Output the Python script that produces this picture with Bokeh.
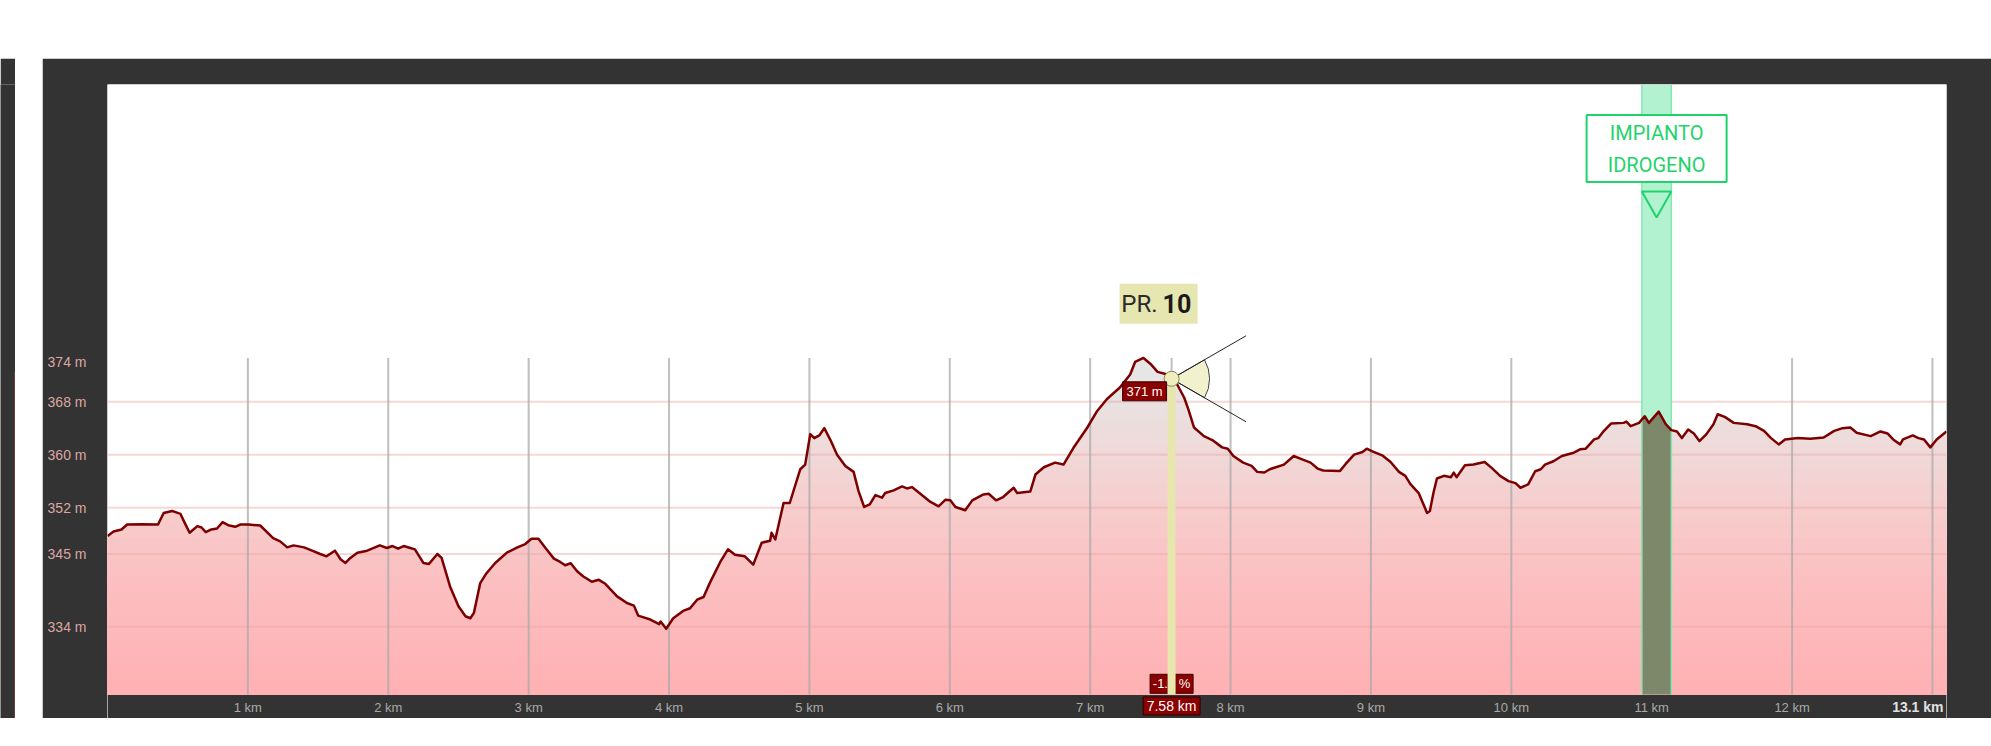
import numpy as np
from bokeh.plotting import figure
from bokeh.models import Range1d, FixedTicker, Spacer
from bokeh.layouts import row, column
from bokeh.embed import file_html
from bokeh.resources import INLINE
from bokeh.core.properties import value

# ---------------- data ----------------
dist_km = [
    0.00, 0.043, 0.10, 0.14, 0.245, 0.36, 0.40, 0.46, 0.52, 0.55,
    0.585, 0.64, 0.67, 0.70, 0.74, 0.78, 0.82, 0.86, 0.91, 0.945,
    1.005, 1.088, 1.18, 1.23, 1.28, 1.325, 1.40, 1.47, 1.515, 1.56,
    1.62, 1.66, 1.695, 1.73, 1.78, 1.85, 1.94, 1.99, 2.03, 2.07,
    2.11, 2.157,
    2.19, 2.25, 2.29, 2.35, 2.38, 2.44, 2.50, 2.55, 2.585, 2.61,
    2.655, 2.70, 2.76, 2.845, 2.92, 2.976, 3.02, 3.07, 3.12, 3.18,
    3.225, 3.26, 3.30, 3.345, 3.39, 3.45, 3.50, 3.546, 3.63, 3.70,
    3.75, 3.78, 3.867, 3.93, 3.94, 3.98, 4.03, 4.10, 4.15, 4.20,
    4.246, 4.29, 4.365,
    4.42, 4.47, 4.54, 4.60, 4.66, 4.72, 4.73, 4.757, 4.816, 4.86,
    4.935, 4.97, 5.006, 5.035, 5.07, 5.106, 5.15, 5.197, 5.256, 5.315,
    5.35, 5.39, 5.43, 5.47, 5.517, 5.54, 5.60, 5.66, 5.695, 5.73,
    5.79, 5.86, 5.92, 5.97, 6.004, 6.04, 6.11, 6.16, 6.24, 6.277,
    6.33, 6.38, 6.455, 6.48, 6.574,
    6.61, 6.67, 6.75, 6.81, 6.88, 6.98, 7.05, 7.12, 7.21, 7.285,
    7.32, 7.38, 7.43, 7.48, 7.55, 7.62, 7.67, 7.70, 7.74, 7.81,
    7.87, 7.94, 7.98, 8.02, 8.09, 8.15, 8.19, 8.24, 8.28, 8.38,
    8.45, 8.51, 8.57, 8.62, 8.66, 8.78,
    8.82, 8.88, 8.94, 8.97, 9.01, 9.08, 9.14, 9.20, 9.245, 9.28,
    9.34, 9.37, 9.40, 9.42, 9.445, 9.47, 9.52, 9.57, 9.59, 9.61,
    9.67, 9.73, 9.81, 9.86, 9.92, 9.98, 10.03, 10.065, 10.12, 10.17,
    10.21, 10.24, 10.30, 10.36, 10.445, 10.49, 10.53, 10.59, 10.62, 10.66,
    10.71, 10.80, 10.82, 10.85, 10.91, 10.95, 10.98,
    11.05, 11.10, 11.14, 11.18, 11.215, 11.26, 11.30, 11.34, 11.39, 11.44,
    11.47, 11.52, 11.585, 11.68, 11.74, 11.80, 11.85, 11.905, 11.95, 12.04,
    12.13, 12.225, 12.30, 12.36, 12.415, 12.46, 12.56, 12.63, 12.68, 12.72,
    12.77, 12.79, 12.86, 12.90, 12.94, 12.985, 13.03, 13.1,
]
elev_m = [
    347.7, 348.4, 348.7, 349.45, 349.5, 349.45, 351.2, 351.5, 351.05, 349.7,
    348.2, 349.2, 349.0, 348.3, 348.7, 348.85, 349.8, 349.35, 349.1, 349.45,
    349.45, 349.3, 347.4, 346.9, 346.0, 346.3, 346.0, 345.4, 345.0, 344.65,
    345.5, 344.2, 343.65, 344.4, 345.2, 345.5, 346.3, 345.9, 346.2, 345.8,
    346.2, 345.9,
    345.7, 343.65, 343.5, 345.0, 344.4, 340.1, 337.1, 335.6, 335.3, 336.1,
    340.6, 342.1, 343.6, 345.2, 346.0, 346.5, 347.3, 347.3, 345.9, 344.3,
    343.8, 343.3, 343.6, 342.4, 341.6, 340.8, 341.1, 340.5, 338.6, 337.6,
    337.2, 335.7, 335.1, 334.4, 334.8, 333.7, 335.3, 336.4, 336.8, 338.1,
    338.5, 340.6, 343.8,
    345.7, 344.9, 344.65, 343.4, 346.7, 347.0, 348.2, 347.2, 352.7, 352.7,
    357.8, 358.5, 363.1, 362.5, 362.9, 364.0, 362.2, 360.0, 358.3, 357.4,
    354.5, 352.1, 352.5, 353.9, 353.5, 354.2, 354.6, 355.2, 354.9, 355.1,
    354.1, 352.9, 352.2, 353.2, 353.1, 352.1, 351.6, 353.1, 354.0, 354.1,
    353.1, 353.6, 355.0, 354.2, 354.45,
    357.0, 358.1, 358.8, 358.5, 361.0, 364.1, 366.6, 368.4, 370.1, 372.1,
    374.0, 374.6, 373.7, 372.5, 372.1, 370.6, 368.6, 366.8, 364.1, 362.8,
    362.2, 361.1, 360.9, 359.8, 358.8, 358.3, 357.4, 357.3, 357.8, 358.5,
    359.8, 359.3, 358.8, 357.9, 357.6, 357.55,
    358.6, 360.0, 360.4, 360.9, 360.5, 359.9, 358.9, 357.4, 356.8, 355.6,
    354.2, 352.7, 351.2, 351.5, 354.2, 356.4, 356.8, 356.6, 357.3, 356.6,
    358.4, 358.5, 358.9, 358.0, 356.8, 356.0, 355.7, 355.0, 355.5, 357.5,
    357.8, 358.5, 359.0, 359.8, 360.3, 360.8, 360.9, 362.3, 362.5, 363.6,
    364.7, 364.8, 365.0, 364.3, 364.8, 365.8, 364.8,
    366.5, 364.6, 363.7, 363.5, 362.5, 363.8, 363.2, 362.05, 363.1, 364.6,
    366.1, 365.7, 364.8, 364.6, 364.3, 363.6, 362.5, 361.55, 362.3, 362.5,
    362.4, 362.6, 363.6, 364.0, 364.1, 363.3, 362.8, 363.5, 363.2, 362.3,
    361.55, 362.3, 362.9, 362.5, 362.3, 361.1, 362.3, 363.5,
]

y_ticks = [374, 368, 360, 352, 345, 334]
y_tick_labels = ["374 m", "368 m", "360 m", "352 m", "345 m", "334 m"]
grid_elev = [368, 360, 352, 345, 334]
x_ticks = [1, 2, 3, 4, 5, 6, 7, 8, 9, 10, 11, 12, 13]
x_tick_labels = ["1 km", "2 km", "3 km", "4 km", "5 km", "6 km", "7 km", "8 km",
                 "9 km", "10 km", "11 km", "12 km", ""]
end_label = "13.1 km"
total_km = 13.1

cursor_km = 7.58
cursor_elev_label = "371 m"
cursor_dist_label = "7.58 km"
cursor_grade_label = "-1.4 %"
poi_prefix = "PR."
poi_number = "10"

band_start_km = 10.93
band_end_km = 11.14
band_lines = ["IMPIANTO", "IDROGENO"]

# ---------------- geometry / styles ----------------
X0, X1 = 0.0, total_km
Y0, Y1 = 323.78, 415.9          # profile base / top of frame
FW, FH_PLOT = 1839, 610
PPK = FW / (X1 - X0)
PPM = FH_PLOT / (Y1 - Y0)
AXIS_BAND = 24                   # dark distance band inside the frame (px)
YB = Y0 - AXIS_BAND / PPM
GRID_TOP = 374.6

DARK = "#333333"
LINE_RED = "#7d0000"
BOX_RED = "#8b0000"
GREEN = "#1fd36b"
FONT = "Liberation Sans"
LABEL_FONT = "Roboto"

x = np.array(dist_km)
y = np.array(elev_m)


def py(page_y):
    """page y pixel -> data elevation"""
    return Y1 - (page_y - 84.0) / PPM


p = figure(frame_width=FW, frame_height=FH_PLOT + AXIS_BAND,
           x_range=Range1d(X0, X1), y_range=Range1d(YB, Y1),
           output_backend="svg", toolbar_location=None,
           min_border_left=65, min_border_right=45, min_border_top=26, min_border_bottom=0,
           background_fill_color="white", border_fill_color=DARK, outline_line_color=None)
p.xgrid.visible = False
p.ygrid.visible = False

for ax in (p.xaxis[0], p.yaxis[0]):
    ax.axis_line_color = None
    ax.major_tick_line_color = None
    ax.minor_tick_line_color = None
    ax.major_tick_out = 0
    ax.major_tick_in = 0
    ax.major_label_text_font = FONT

p.xaxis.ticker = FixedTicker(ticks=x_ticks)
p.xaxis.major_label_overrides = {t: l for t, l in zip(x_ticks, x_tick_labels)}
p.xaxis.major_label_text_color = "#a9a9a9"
p.xaxis.major_label_text_font_size = "13px"
p.xaxis.major_label_standoff = -19

p.yaxis.ticker = FixedTicker(ticks=y_ticks)
p.yaxis.major_label_overrides = {t: l for t, l in zip(y_ticks, y_tick_labels)}
p.yaxis.major_label_text_color = "#dba7a3"
p.yaxis.major_label_text_font_size = "14px"
p.yaxis.major_label_standoff = 21

# dark distance band at the bottom of the frame
p.quad(left=[X0], right=[X1], bottom=[YB], top=[Y0], fill_color=DARK, line_color=None)


# gradient fill under the profile (layered, top colour first)
def hex2rgb(h):
    h = h.lstrip("#")
    return np.array([int(h[i:i + 2], 16) for i in (0, 2, 4)], dtype=float)


stops = [(Y0, "#ffb0b2"), (340, "#fcbec0"), (350, "#f8caca"), (360, "#f0d8d8"), (372, "#e6e6e6")]
sv = [s[0] for s in stops]
sc = np.array([hex2rgb(s[1]) for s in stops])


def grad_color(v):
    c = [np.interp(v, sv, sc[:, k]) for k in range(3)]
    return "#%02x%02x%02x" % tuple(int(round(t)) for t in c)


levels = np.linspace(Y0, 377.0, 46)[1:][::-1]
step = levels[0] - levels[1]
for lv in levels:
    p.varea(x=x, y1=np.full_like(y, Y0), y2=np.minimum(y, lv), fill_color=grad_color(lv - step / 2))

# horizontal grid lines
p.segment(x0=[X0] * len(grid_elev), y0=grid_elev, x1=[X1] * len(grid_elev), y1=grid_elev,
          line_color="#e8a8a8", line_alpha=0.45, line_width=2)
# vertical grid lines
p.segment(x0=x_ticks, y0=[Y0] * len(x_ticks), x1=x_ticks, y1=[GRID_TOP] * len(x_ticks),
          line_color="#aaaaaa", line_alpha=0.75, line_width=2)

# highlighted band (IMPIANTO IDROGENO)
inside = (x > band_start_km) & (x < band_end_km)
bx = np.concatenate([[band_start_km], x[inside], [band_end_km]])
by = np.interp(bx, x, y)
p.varea(x=bx, y1=by, y2=np.full_like(by, Y1), fill_color="#b3f2d1")
p.varea(x=bx, y1=np.full_like(by, Y0), y2=by, fill_color="#7d876a")
p.segment(x0=[band_start_km, band_end_km], y0=[Y0, Y0], x1=[band_start_km, band_end_km], y1=[Y1, Y1],
          line_color="#86e6b0", line_width=1.5)

# profile line
p.line(x, y, line_color=LINE_RED, line_width=2.5, line_join="round")

# cursor
cursor_elev = float(np.interp(cursor_km, x, y))
gy = Y0 + 10.7 / PPM
p.rect(x=[cursor_km], y=[gy], width=43, height=19, width_units="screen", height_units="screen",
       fill_color=BOX_RED, line_color="#3a0000")
p.text(x=[cursor_km], y=[gy], text=[cursor_grade_label], text_align="center", text_baseline="middle",
       text_color="white", text_font_size="13px", text_font=value(FONT))
p.segment(x0=[cursor_km], y0=[Y0], x1=[cursor_km], y1=[cursor_elev], line_color="#e6e6ad",
          line_width=8)
p.segment(x0=[cursor_km], y0=[cursor_elev], x1=[cursor_km], y1=[GRID_TOP], line_color="#aaaaaa",
          line_alpha=0.75, line_width=2)
p.wedge(x=[cursor_km], y=[cursor_elev], radius=38, radius_units="screen",
        start_angle=np.radians(-30), end_angle=np.radians(30),
        fill_color="#efefc8", fill_alpha=0.9, line_color="#444444", line_width=1)
p.ray(x=[cursor_km, cursor_km], y=[cursor_elev, cursor_elev], length=86, length_units="screen",
      angle=[np.radians(30), np.radians(-30)], line_color="#222222", line_width=1)
p.scatter(x=[cursor_km], y=[cursor_elev], size=15, fill_color="#eeeebf", line_color="#85854f",
          line_width=1)
# elevation label
ex = cursor_km - 27 / PPK
ey = cursor_elev - 12.5 / PPM
p.rect(x=[ex], y=[ey], width=44, height=19, width_units="screen", height_units="screen",
       fill_color=BOX_RED, line_color="#3a0000")
p.text(x=[ex], y=[ey], text=[cursor_elev_label], text_align="center", text_baseline="middle",
       text_color="white", text_font_size="13px", text_font=value(FONT))
# distance label in the bottom band
dy = Y0 - 11.5 / PPM
p.rect(x=[cursor_km], y=[dy], width=57, height=18, width_units="screen", height_units="screen",
       fill_color=BOX_RED, line_color="#2a0000")
p.text(x=[cursor_km], y=[dy], text=[cursor_dist_label], text_align="center", text_baseline="middle",
       text_color="white", text_font_size="14px", text_font=value(FONT))
# end-of-track label
p.text(x=[X1], y=[Y0 - 12.5 / PPM], x_offset=-3, text=[end_label], text_align="right",
       text_baseline="middle", text_color="#e2e2e2", text_font_size="14px",
       text_font=value(FONT), text_font_style="bold")

# point-of-interest label
qx = cursor_km - 13 / PPK
qy = cursor_elev + 75 / PPM
p.rect(x=[qx], y=[qy], width=78, height=40, width_units="screen", height_units="screen",
       fill_color="#e6e6b0", line_color=None)
p.text(x=[qx], y=[qy], x_offset=-1, text=[poi_prefix], text_align="right", text_baseline="middle",
       text_color="#2a2a2a", text_font_size="24px", text_font=value(LABEL_FONT))
p.text(x=[qx], y=[qy], x_offset=4, text=[poi_number], text_align="left", text_baseline="middle",
       text_color="#1a1a1a", text_font_size="25px", text_font=value(LABEL_FONT),
       text_font_style="bold")

# band label box + triangle
bc = (band_start_km + band_end_km) / 2
p.rect(x=[bc], y=[py(148)], width=140, height=67, width_units="screen", height_units="screen",
       fill_color="white", line_color=GREEN, line_width=2)
p.text(x=[bc, bc], y=[py(132), py(164)], text=band_lines, text_align="center", text_baseline="middle",
       text_color=GREEN, text_font_size="20px", text_font=value(LABEL_FONT))
p.patch(x=[band_start_km, band_end_km, bc], y=[py(191), py(191), py(217)], fill_color=None,
        line_color=GREEN, line_width=2)

# left dark strip
strip = figure(width=15, height=660, x_range=Range1d(0, 15), y_range=Range1d(0, 660),
               output_backend="svg", toolbar_location=None, min_border=0,
               x_axis_location=None, y_axis_location=None,
               background_fill_color=DARK, border_fill_color=DARK, outline_line_color=None)
strip.xgrid.visible = False
strip.ygrid.visible = False
strip.segment(x0=[14.5], y0=[0], x1=[14.5], y1=[361], line_color="#b04848", line_width=1)

layout = column(Spacer(width=1980, height=58),
                row(strip, Spacer(width=27, height=660), p, spacing=0),
                spacing=0)

open("out.html", "w").write(file_html(layout, INLINE))
